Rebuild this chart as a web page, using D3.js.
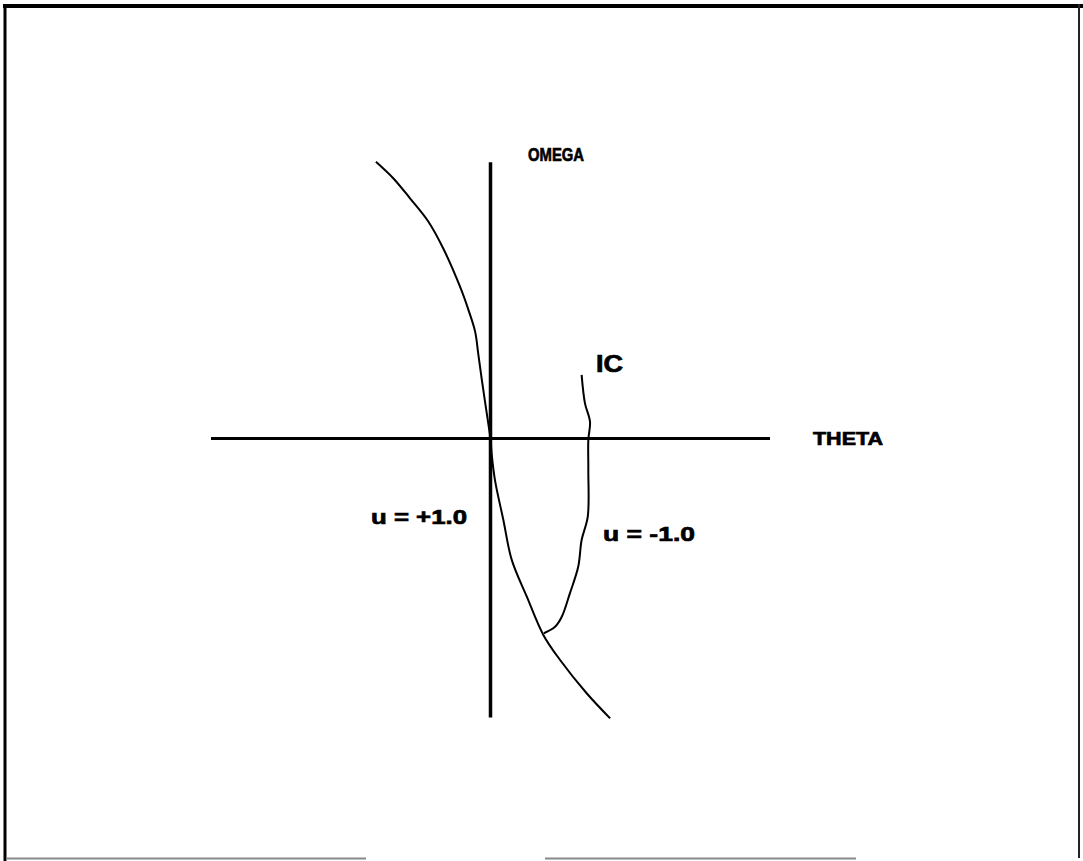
<!DOCTYPE html>
<html>
<head>
<meta charset="utf-8">
<script src="https://cdn.jsdelivr.net/npm/d3@7"></script>
<style>
  html, body { margin: 0; padding: 0; background: #fff; }
  svg { display: block; }
  text { font-family: "Liberation Sans", Arial, Helvetica, sans-serif; font-weight: bold; fill: #000; stroke: #000; stroke-width: 0.7; }
</style>
</head>
<body>
<svg id="chart" width="1083" height="861"></svg>
<script>
// Phase plane: theta (horizontal) vs omega (vertical), normalised units.
const thetaExtent = [-1, 1];
const omegaExtent = [-1, 0.99];

// Switching curve (u = +1.0 above the origin, continuing below it)
const switchTheta = [-0.410, -0.348, -0.288, -0.222, -0.169, -0.109, -0.079, -0.055, -0.044, -0.031, -0.008, 0.000,
                      0.004, 0.016, 0.046, 0.076, 0.130, 0.189, 0.249, 0.344, 0.428];
const switchOmega = [ 0.992, 0.933, 0.861, 0.777, 0.681, 0.544, 0.461, 0.383, 0.305, 0.210, 0.054, 0.000,
                     -0.053, -0.149, -0.292, -0.435, -0.567, -0.704, -0.794, -0.913, -1.003];

// Trajectory from the initial condition (u = -1.0) until it meets the switching curve
const icTheta = [0.326, 0.338, 0.356, 0.350, 0.350, 0.348, 0.326, 0.314, 0.284, 0.255, 0.231, 0.191];
const icOmega = [0.228, 0.126, 0.060, -0.005, -0.113, -0.280, -0.364, -0.459, -0.555, -0.639, -0.675, -0.698];

const axisLabels = ["THETA", "OMEGA"];
const curveLabels = ["IC", "u = +1.0", "u = -1.0"];

const svg = d3.select("#chart");

const x = d3.scaleLinear().domain([-1, 1]).range([211, 770]);
const y = d3.scaleLinear().domain([-1, 1]).range([717.5, 159.5]);

// Frame around the plot
const frame = svg.append("g").attr("fill", "none");
frame.append("line").attr("x1", 3).attr("x2", 1083).attr("y1", 6).attr("y2", 6)
  .attr("stroke", "#000").attr("stroke-width", 4);
frame.append("line").attr("x1", 5).attr("x2", 5).attr("y1", 4).attr("y2", 861)
  .attr("stroke", "#000").attr("stroke-width", 3);
frame.append("line").attr("x1", 1079).attr("x2", 1079).attr("y1", 4).attr("y2", 858)
  .attr("stroke", "#222").attr("stroke-width", 2);
frame.append("line").attr("x1", 6).attr("x2", 366).attr("y1", 858.5).attr("y2", 858.5)
  .attr("stroke", "#888").attr("stroke-width", 2);
frame.append("line").attr("x1", 545).attr("x2", 856).attr("y1", 858.5).attr("y2", 858.5)
  .attr("stroke", "#888").attr("stroke-width", 2);

// Axes through the origin
svg.append("line")
  .attr("x1", x(thetaExtent[0])).attr("x2", x(thetaExtent[1]))
  .attr("y1", y(0)).attr("y2", y(0))
  .attr("stroke", "#000").attr("stroke-width", 3);
svg.append("line")
  .attr("x1", x(0)).attr("x2", x(0))
  .attr("y1", y(omegaExtent[0])).attr("y2", y(omegaExtent[1]))
  .attr("stroke", "#000").attr("stroke-width", 3.5);

const line = d3.line()
  .x(d => x(d[0]))
  .y(d => y(d[1]))
  .curve(d3.curveCatmullRom.alpha(0.5));

svg.append("path")
  .datum(d3.zip(switchTheta, switchOmega))
  .attr("d", line)
  .attr("fill", "none").attr("stroke", "#000").attr("stroke-width", 2)
  .attr("stroke-linejoin", "round");

svg.append("path")
  .datum(d3.zip(icTheta, icOmega))
  .attr("d", line)
  .attr("fill", "none").attr("stroke", "#000").attr("stroke-width", 2)
  .attr("stroke-linejoin", "round");

// Labels
function label(txt, px, py, size, len) {
  svg.append("text")
    .attr("x", px).attr("y", py)
    .attr("font-size", size)
    .attr("textLength", len)
    .attr("lengthAdjust", "spacingAndGlyphs")
    .text(txt);
}
label(axisLabels[1], 528, 161, 19, 56);
label(axisLabels[0], 813, 445, 18, 70);
label(curveLabels[0], 596, 372, 23, 27);
label(curveLabels[1], 371, 524, 21, 96);
label(curveLabels[2], 603, 541, 21, 92);
</script>
</body>
</html>
